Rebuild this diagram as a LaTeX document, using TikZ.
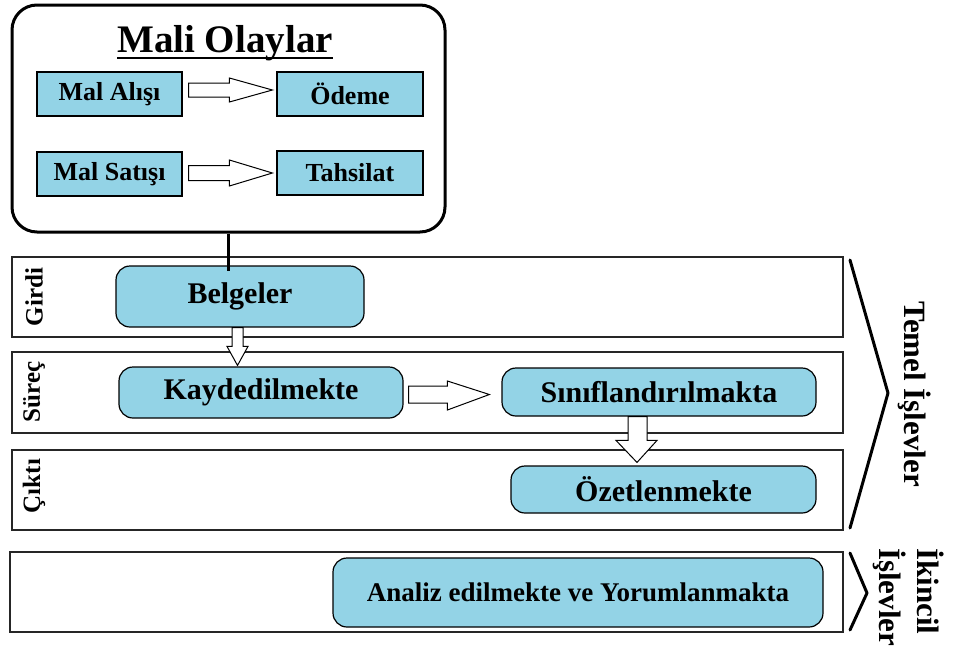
\documentclass[tikz,border=0pt]{standalone}
\usepackage{fontspec}
\setmainfont{Liberation Serif}
\usetikzlibrary{calc}
\definecolor{boxblue}{RGB}{147,211,230}
\begin{document}
\begin{tikzpicture}[x=1pt,y=-1pt,
  sq/.style={draw=black,line width=1.2pt,fill=boxblue,inner sep=0pt,font=\fontsize{26}{28}\selectfont\bfseries},
  pill/.style={draw=black,line width=1.2pt,fill=boxblue,rounded corners=14pt,inner sep=0pt,font=\fontsize{30}{34}\selectfont\bfseries},
  lane/.style={draw=black!85,line width=1.5pt,inner sep=0pt},
  hollow/.style={draw=black,line width=1pt,fill=white,line join=miter},
  bracestyle/.style={draw=black,line width=3pt,line join=round,line cap=round},
  sidelabel/.style={rotate=90,font=\fontsize{25}{27}\selectfont\bfseries,inner sep=0pt},
  biglabel/.style={rotate=-90,font=\fontsize{31}{38}\selectfont\bfseries,inner sep=0pt}
]
\useasboundingbox (0,0) rectangle (955,651);

% Mali Olaylar frame
\node[draw=black,line width=3pt,rounded corners=25pt,minimum width=433pt,minimum height=227pt,inner sep=0pt] (mo) at (228.5,118.5) {};
\node[anchor=base,inner sep=0pt,font=\fontsize{39}{42}\selectfont\bfseries] (title) at (225,52) {Mali Olaylar};
\draw[line width=2pt] ($(title.base west)+(0pt,-6pt)$) -- ($(title.base east)+(0pt,-6pt)$);

\node[sq,minimum width=145pt,minimum height=44pt] (ma) at (109.5,94) {Mal Alışı};
\node[sq,minimum width=146pt,minimum height=44pt] (od) at (350,94) {Ödeme};
\node[sq,minimum width=145pt,minimum height=44pt] (ms) at (109.5,174) {Mal Satışı};
\node[sq,minimum width=146pt,minimum height=44pt] (th) at (350,173) {Tahsilat};

\draw[hollow] let \p1=(ma.east), \p2=(od.west) in
  (\x1+6pt,\y1+11pt) -- (\x2-47pt,\y1+11pt) -- (\x2-47pt,\y1+16pt) -- (\x2-4pt,\y1+4pt)
  -- (\x2-47pt,\y1-8pt) -- (\x2-47pt,\y1-3pt) -- (\x1+6pt,\y1-3pt) -- cycle;
\draw[hollow] let \p1=(ms.east), \p2=(th.west) in
  (\x1+6pt,\y1+8.5pt) -- (\x2-47pt,\y1+8.5pt) -- (\x2-47pt,\y1+14pt) -- (\x2-4pt,\y1+1pt)
  -- (\x2-47pt,\y1-12pt) -- (\x2-47pt,\y1-6.5pt) -- (\x1+6pt,\y1-6.5pt) -- cycle;

% lanes
\node[lane,minimum width=831pt,minimum height=80pt] (girdi) at (427.5,297) {};
\node[lane,minimum width=831pt,minimum height=81pt] (surec) at (427.5,392.5) {};
\node[lane,minimum width=831pt,minimum height=80pt] (cikti) at (427.5,490) {};
\node[lane,minimum width=833pt,minimum height=80pt] (ikincil) at (426.5,592) {};

\node[sidelabel] (lg) at (34,297) {Girdi};
\node[sidelabel] (ls) at (34,392) {Süreç};
\node[sidelabel] (lc) at (34,486) {Çıktı};

% process pills
\node[pill,minimum width=248pt,minimum height=61pt] (bel) at (240,296.5) {Belgeler};
\node[pill,minimum width=284pt,minimum height=51pt] (kay) at (261,392.5) {Kaydedilmekte};
\node[pill,minimum width=314pt,minimum height=48pt] (sin) at (659,392) {Sınıflandırılmakta};
\node[pill,minimum width=305pt,minimum height=47pt] (oz) at (663.5,489.5) {Özetlenmekte};
\node[pill,minimum width=490pt,minimum height=69pt,font=\fontsize{27}{30}\selectfont\bfseries] (an) at (578,592.5) {Analiz edilmekte ve Yorumlanmakta};

% connection from Mali Olaylar to Belgeler
\draw[line width=3.5pt] (mo.south) -- ($(mo.south |- bel.north)+(0pt,-6pt)$);

% hollow arrows in lanes
\draw[hollow] let \p1=(bel.south), \p2=(kay.north) in
  (\x1-8pt,\y1) -- (\x1-8pt,\y2+20pt) -- (\x1-13pt,\y2+20pt) -- (\x1-2.5pt,\y2+1pt)
  -- (\x1+8pt,\y2+20pt) -- (\x1+3pt,\y2+20pt) -- (\x1+3pt,\y1) -- cycle;
\draw[hollow] let \p1=(kay.east), \p2=(sin.west) in
  (\x1+5pt,\y1+6.5pt) -- (\x2-54pt,\y1+6.5pt) -- (\x2-54pt,\y1+11.5pt) -- (\x2-12pt,\y1-2pt)
  -- (\x2-54pt,\y1-17.5pt) -- (\x2-54pt,\y1-10.5pt) -- (\x1+5pt,\y1-10.5pt) -- cycle;
\draw[hollow] let \p1=(sin.south), \p2=(oz.north) in
  (\x1-31pt,\y1) -- (\x1-31pt,\y2+25pt) -- (\x1-43pt,\y2+25pt) -- (\x1-22pt,\y2+3pt)
  -- (\x1-2pt,\y2+25pt) -- (\x1-12pt,\y2+25pt) -- (\x1-12pt,\y1) -- cycle;

% braces
\draw[bracestyle] (850,260) -- (888,393) -- (850,528);
\draw[bracestyle] (850,553) -- (867,593) -- (850,630);

\node[biglabel] (temel) at (915,394) {Temel İşlevler};
\node[biglabel,align=left,anchor=west] (ikin) at (909,548) {İkincil\\İşlevler};
\end{tikzpicture}
\end{document}
